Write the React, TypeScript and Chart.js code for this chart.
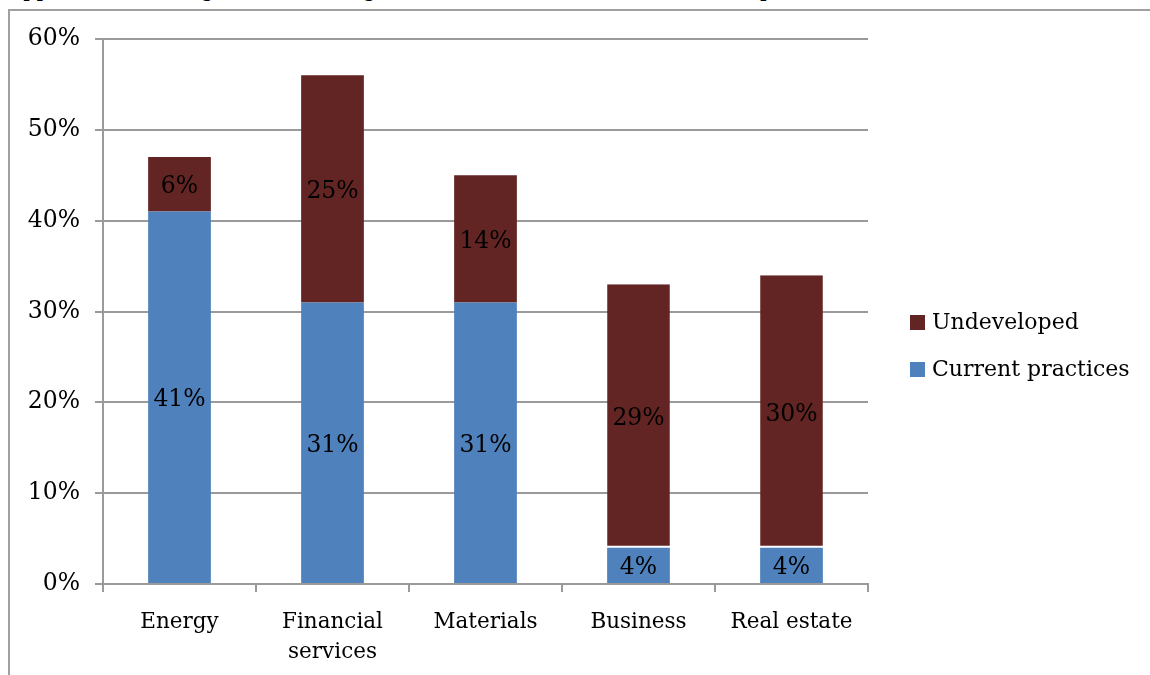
import React, { useEffect, useRef } from "react";
import { Chart, registerables } from "chart.js";

Chart.register(...registerables);

const categories: (string | string[])[] = ["Energy", ["Financial", "services"], "Materials", "Business", "Real estate"];
const currentPractices = [41, 31, 31, 4, 4];
const undeveloped = [6, 25, 14, 29, 30];
const yTicks = [0, 10, 20, 30, 40, 50, 60];

const BLUE = "#4f81bd";
const MAROON = "#632523";
const GRID = "#9a9a9a";
const FONT = "DejaVu Serif";

const valueLabels = {
  id: "valueLabels",
  afterDatasetsDraw(chart: any) {
    const ctx = chart.ctx;
    ctx.save();
    ctx.font = `23.5px "${FONT}"`;
    ctx.fillStyle = "#000";
    ctx.textAlign = "center";
    ctx.textBaseline = "middle";
    chart.data.datasets.forEach((ds: any, i: number) => {
      const meta = chart.getDatasetMeta(i);
      meta.data.forEach((el: any, j: number) => {
        const p = el.getProps(["x", "y", "base"], true);
        ctx.fillText(ds.data[j] + "%", p.x, (p.y + p.base) / 2 + 3);
      });
    });
    ctx.restore();
  },
};

const customLegend = {
  id: "customLegend",
  afterDraw(chart: any) {
    const ctx = chart.ctx;
    const ds = chart.data.datasets.slice().reverse();
    ctx.save();
    ctx.font = `22px "${FONT}"`;
    ctx.textAlign = "left";
    ctx.textBaseline = "middle";
    const x0 = 910;
    const y0 = 322;
    const gap = 47;
    ds.forEach((d: any, i: number) => {
      const cy = y0 + i * gap;
      ctx.fillStyle = d.backgroundColor;
      ctx.fillRect(x0, cy - 7, 15, 15);
      ctx.fillStyle = "#000";
      ctx.fillText(d.label, x0 + 22, cy + 1);
    });
    ctx.restore();
  },
};

export default function App() {
  const ref = useRef<HTMLCanvasElement>(null);
  useEffect(() => {
    if (!ref.current) return;
    const chart = new Chart(ref.current, {
      type: "bar",
      data: {
        labels: categories as any,
        datasets: [
          {
            label: "Current practices",
            data: currentPractices,
            backgroundColor: BLUE,
            borderWidth: 0,
          },
          {
            label: "Undeveloped",
            data: undeveloped,
            backgroundColor: MAROON,
            borderColor: "#ffffff",
            borderSkipped: false,
            borderWidth: (c: any) =>
              currentPractices[c.dataIndex] < 10 ? { top: 0, left: 0, right: 0, bottom: 2 } : 0,
          } as any,
        ],
      },
      options: {
        responsive: false,
        animation: false,
        layout: { padding: { top: 39, right: 282, left: 0, bottom: 0 } },
        plugins: {
          legend: { display: false },
          tooltip: { enabled: false },
        },
        datasets: { bar: { barPercentage: 0.41, categoryPercentage: 1 } },
        scales: {
          x: {
            stacked: true,
            offset: true,
            grid: {
              offset: true,
              drawOnChartArea: false,
              drawTicks: true,
              tickLength: 8,
              color: GRID,
              lineWidth: 2,
            },
            border: { display: true, color: GRID, width: 2 },
            ticks: {
              color: "#000",
              padding: 15,
              maxRotation: 0,
              autoSkip: false,
              font: { family: FONT, size: 21.5, lineHeight: 1.4 },
            },
            afterFit(scale: any) {
              scale.height = 91;
            },
          },
          y: {
            stacked: true,
            min: 0,
            max: 60,
            afterBuildTicks(scale: any) {
              scale.ticks = yTicks.map((v) => ({ value: v }));
            },
            grid: {
              color: GRID,
              lineWidth: 2,
              tickLength: 8,
            },
            border: { display: true, color: GRID, width: 2 },
            ticks: {
              color: "#000",
              padding: 15,
              font: { family: FONT, size: 23.5 },
              callback: (v: any) => v + "%",
            },
            afterFit(scale: any) {
              scale.width = 103;
            },
          },
        },
      },
      plugins: [valueLabels, customLegend],
    });
    return () => chart.destroy();
  }, []);

  return (
    <div style={{ position: "fixed", left: 0, top: 0, width: 1150, height: 675, overflow: "hidden", background: "#fff" }}>
      <div
        style={{
          position: "absolute",
          left: 8,
          top: -22,
          fontFamily: FONT,
          fontSize: 21,
          whiteSpace: "nowrap",
          color: "#000",
        }}
      >
        Approaches to long-term investing across the sectors in the current report
      </div>
      <div
        style={{
          position: "absolute",
          left: 8,
          top: 9,
          width: 1200,
          height: 700,
          border: "2px solid #a0a0a0",
          boxSizing: "border-box",
        }}
      />
      <canvas ref={ref} width={1150} height={675} style={{ position: "absolute", left: 0, top: 0 }} />
    </div>
  );
}
